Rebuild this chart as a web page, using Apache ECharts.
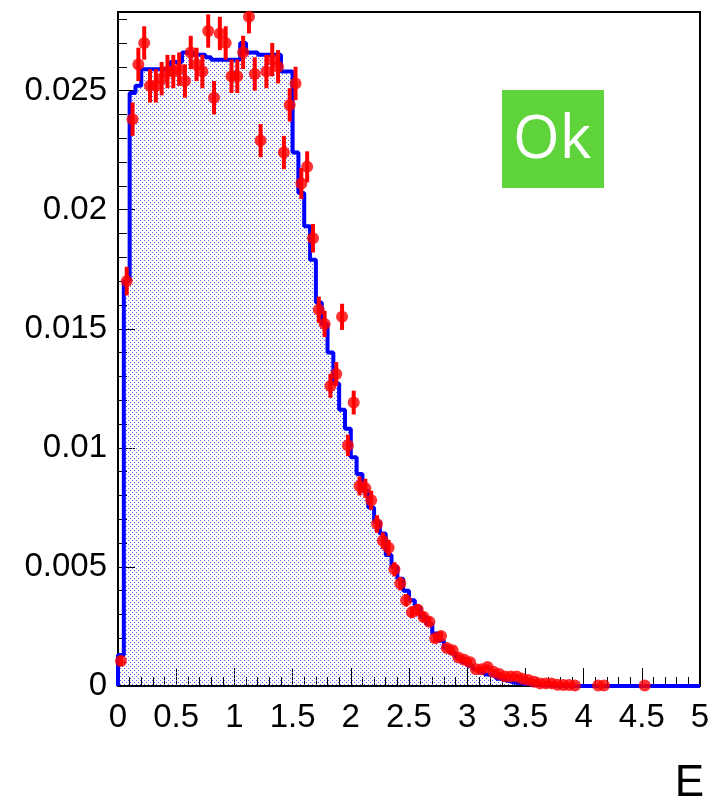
<!DOCTYPE html>
<html>
<head>
<meta charset="utf-8">
<script src="https://cdn.jsdelivr.net/npm/echarts@6.0.0/dist/echarts.min.js"></script>
<style>
  html, body { margin: 0; padding: 0; background: #fff; }
  #main { width: 714px; height: 809px; }
</style>
</head>
<body>
<div id="main"></div>
<script>
// 直方图分箱: 0 到 5, 共 100 个
var binWidth = 0.05;
var xMin = 0, xMax = 5, xStep = 0.5;
var yMin = 0, yMax = 0.0283, yStep = 0.005;

// 蓝色直方图 (每个分箱的高度)
var histValues = [
  0.0013, 0.0170, 0.0249, 0.0252, 0.0259, 0.0259, 0.0259, 0.0259, 0.0259, 0.0262,
  0.0262, 0.0266, 0.0266, 0.0265, 0.0265, 0.0264, 0.0263, 0.0263, 0.0263, 0.0263,
  0.0263, 0.0270, 0.0266, 0.0266, 0.0265, 0.0265, 0.0265, 0.0265, 0.0258, 0.0258,
  0.0224, 0.0207, 0.0193, 0.0179, 0.0161, 0.0152, 0.0140, 0.0127, 0.0116, 0.0108,
  0.0096, 0.0089, 0.0082, 0.0075, 0.0069, 0.0064, 0.0055, 0.0050, 0.0045, 0.0040,
  0.0036, 0.0033, 0.0029, 0.0026, 0.0022, 0.0019, 0.0016, 0.0014, 0.0012, 0.0010,
  0.00085, 0.0007, 0.00058, 0.00048, 0.0004, 0.0003, 0.00022, 0.00016, 0.00012, 0.00008,
  0.00006, 0.00004, 0.00003, 0.00002, 0.00001, 0, 0, 0, 0, 0,
  0, 0, 0, 0, 0, 0, 0, 0, 0, 0,
  0, 0, 0, 0, 0, 0, 0, 0, 0, 0
];

// 红色数据点 (null = 空箱)
var dataValues = [
  0.00105, 0.0170, 0.0238, 0.0261, 0.0270, 0.0252, 0.0252, 0.0255, 0.0258, 0.0258,
  0.0259, 0.0254, 0.0266, 0.0261, 0.0258, 0.0275, 0.0247, 0.0274, 0.0270, 0.0256,
  0.0256, 0.0266, 0.0281, 0.0257, 0.0229, 0.0258, 0.0263, 0.0260, 0.0224, 0.0244,
  0.0253, 0.0211, 0.0218, 0.0188, 0.0158, 0.0152, 0.0126, 0.0131, 0.0155, 0.0101,
  0.0119, 0.0084, 0.0083, 0.0078, 0.0068, 0.0061, 0.0058, 0.0049, 0.0043, 0.0036,
  0.0031, 0.0032, 0.0029, 0.0027, 0.0020, 0.0021, 0.0016, 0.0015, 0.0012, 0.0011,
  0.0010, 0.0007, 0.0007, 0.0008, 0.0006, 0.0005, 0.0004, 0.0004, 0.0004, 0.0003,
  0.00025, 0.00018, 0.00011, 0.00011, 0.00011, 0.00005, 0.00004, 0.00004, 0.00002, null,
  null, null, 0.00002, 0.00002, null, null, null, null, null, null,
  0.00002, null, null, null, null, null, null, null, null, null
];

// 误差棒 (半长)
var dataErrors = [
  0.0002, 0.0006, 0.0007, 0.0007, 0.0007, 0.0007, 0.0007, 0.0007, 0.0007, 0.0007,
  0.0007, 0.0007, 0.0007, 0.0007, 0.0007, 0.0007, 0.0007, 0.0007, 0.0007, 0.0007,
  0.0007, 0.0007, 0.0007, 0.0007, 0.0007, 0.0007, 0.0007, 0.0007, 0.0007, 0.0007,
  0.0007, 0.00065, 0.00065, 0.0006, 0.00055, 0.00055, 0.0005, 0.0005, 0.00055, 0.00045,
  0.0005, 0.0004, 0.0004, 0.0004, 0.00037, 0.00035, 0.00033, 0.0003, 0.00028, 0.00026,
  0.00024, 0.00024, 0.00022, 0.0002, 0.00018, 0.00018, 0.00016, 0.00015, 0.00014, 0.00013,
  0.00012, 0.0001, 0.0001, 0.0001, 0.0001, 0.0001, 0.0001, 0.0001, 0.0001, 0.0001,
  0.0001, 0.0001, 0.0001, 0.0001, 0.0001, 0.0001, 0.0001, 0.0001, 0.0001, 0,
  0, 0, 0.00005, 0.00005, 0, 0, 0, 0, 0, 0,
  0.00005, 0, 0, 0, 0, 0, 0, 0, 0, 0
];

// 直方图阶梯线的点 (左边沿)
var histLine = [[xMin, 0]];
for (var i = 0; i < histValues.length; i++) {
  histLine.push([xMin + i * binWidth, histValues[i]]);
}
histLine.push([xMax, histValues[histValues.length - 1]]);

// 数据点放在箱中心
var points = [];
for (var j = 0; j < dataValues.length; j++) {
  if (dataValues[j] === null) continue;
  points.push([xMin + (j + 0.5) * binWidth, dataValues[j], dataErrors[j]]);
}

// 点阵填充 (类似 ROOT 的 fill style)
var pat = document.createElement('canvas');
pat.width = 4; pat.height = 4;
var pctx = pat.getContext('2d');
pctx.fillStyle = '#5a5aff';
pctx.fillRect(0, 0, 1, 1);
pctx.fillRect(2, 2, 1, 1);

var font = '"Liberation Sans", Arial, sans-serif';

var myChart = echarts.init(document.getElementById('main'), null, { renderer: 'canvas' });

var option = {
  backgroundColor: '#fff',
  animation: false,
  grid: {
    left: 118, right: 14, top: 12, bottom: 123,
    show: true, borderColor: '#000', borderWidth: 2, backgroundColor: 'transparent'
  },
  xAxis: {
    type: 'value',
    min: xMin, max: xMax, interval: xStep,
    axisLine: { show: true, onZero: false, lineStyle: { color: '#000', width: 2 } },
    axisTick: { show: true, inside: true, length: 18, lineStyle: { color: '#000', width: 1 } },
    minorTick: { show: true, splitNumber: 5, length: 9, lineStyle: { color: '#000', width: 1 } },
    splitLine: { show: false },
    axisLabel: {
      color: '#000', fontSize: 33, fontFamily: font, margin: 15,
      formatter: function (v) { return String(+v.toFixed(2)); }
    }
  },
  yAxis: {
    type: 'value',
    min: yMin, max: yMax, interval: yStep,
    axisLine: { show: true, lineStyle: { color: '#000', width: 2 } },
    axisTick: { show: true, inside: true, length: 17, lineStyle: { color: '#000', width: 1 } },
    minorTick: { show: true, splitNumber: 5, length: 9, lineStyle: { color: '#000', width: 1 } },
    splitLine: { show: false },
    axisLabel: {
      color: '#000', fontSize: 33, fontFamily: font, margin: 11,
      showMaxLabel: false,
      formatter: function (v) { return String(+v.toFixed(3)); }
    }
  },
  graphic: [
    { type: 'rect', left: 502, top: 90, shape: { width: 102, height: 98 }, style: { fill: '#5fd43a' } },
    { type: 'text', left: 513, top: 111, style: { text: 'Ok', fill: '#fff', font: '60px "Open Sans", sans-serif' } },
    { type: 'text', right: 10, top: 762, style: { text: 'E', fill: '#000', font: '44px "Liberation Sans", Arial, sans-serif' } }
  ],
  series: [
    {
      // 蓝色直方图
      type: 'line',
      data: histLine,
      step: 'end',
      symbol: 'none',
      clip: true,
      lineStyle: { color: '#0000ff', width: 4 },
      areaStyle: { color: { image: pat, repeat: 'repeat' }, opacity: 1 },
      z: 2
    },
    {
      // 误差棒
      type: 'custom',
      data: points,
      clip: true,
      renderItem: function (params, api) {
        var x = api.value(0), v = api.value(1), e = api.value(2);
        var p1 = api.coord([x, v - e]);
        var p2 = api.coord([x, v + e]);
        return {
          type: 'line',
          shape: { x1: p1[0], y1: p1[1], x2: p2[0], y2: p2[1] },
          style: { stroke: '#ff0000', lineWidth: 4 }
        };
      },
      z: 3
    },
    {
      // 红色数据点
      type: 'scatter',
      data: points,
      symbol: 'circle',
      symbolSize: 12,
      clip: false,
      itemStyle: { color: '#ff0000' },
      z: 4
    }
  ]
};

myChart.setOption(option);
</script>
</body>
</html>
